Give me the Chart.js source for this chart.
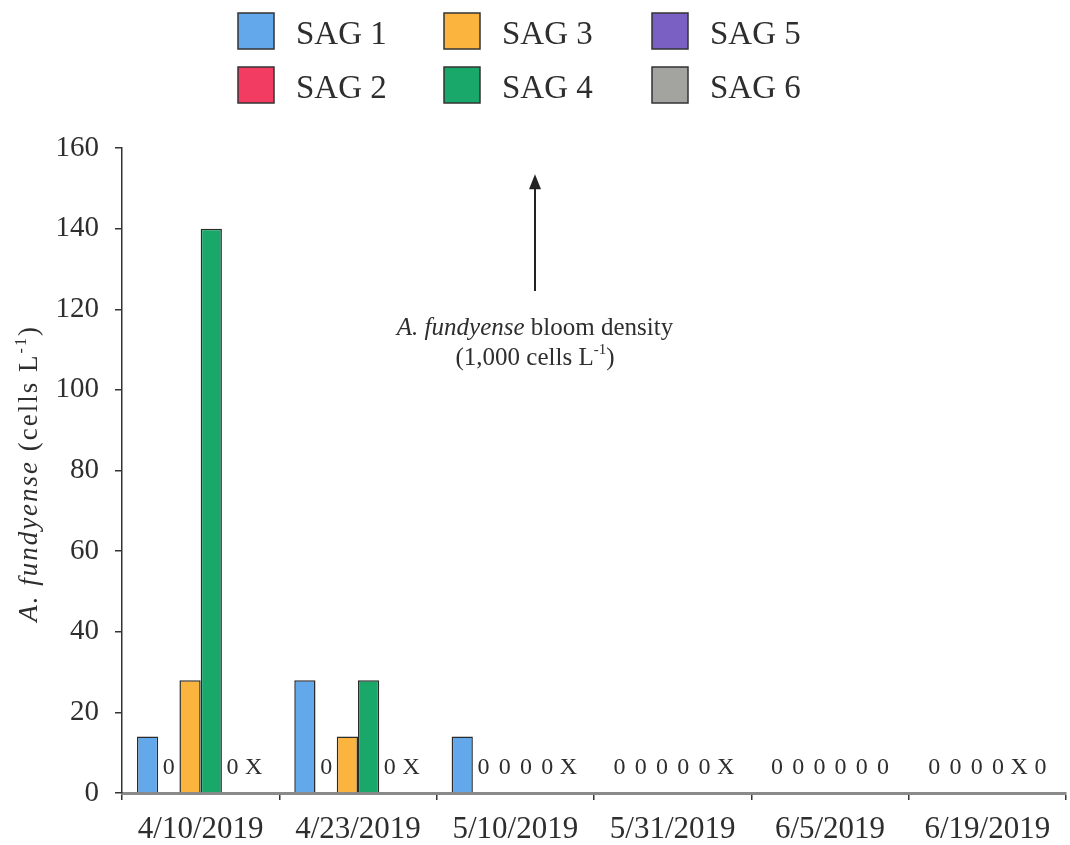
<!DOCTYPE html>
<html><head><meta charset="utf-8">
<script src="https://cdn.jsdelivr.net/npm/chart.js@4.4.1/dist/chart.umd.min.js"></script>
<style>html,body{margin:0;padding:0;background:#fff;} #wrap{width:1070px;height:845px;}</style>
</head><body><div id="wrap"><canvas id="c" width="1070" height="845"></canvas></div>
<script>
// ---- data ----
const categories = ['4/10/2019','4/23/2019','5/10/2019','5/31/2019','6/5/2019','6/19/2019'];
const seriesNames = ['SAG 1','SAG 2','SAG 3','SAG 4','SAG 5','SAG 6'];
const sag1 = [14, 28, 14, 0, 0, 0];
const sag2 = [0, 0, 0, 0, 0, 0];
const sag3 = [28, 14, 0, 0, 0, 0];
const sag4 = [140, 28, 0, 0, 0, 0];
const sag5 = [0, 0, 0, 0, 0, null];   // null = not sampled (X)
const sag6 = [null, null, null, null, 0, 0];
const yTicks = [0, 20, 40, 60, 80, 100, 120, 140, 160];
const seriesColors = ['#62a8ea','#f23c62','#fbb43e','#1aa86a','#7a60c2','#a3a3a0'];
const annotationText = ['bloom density', '(1,000 cells L', ')'];

const FONT = '"Liberation Serif", "Times New Roman", serif';
const allSeries = [sag1, sag2, sag3, sag4, sag5, sag6];
const CAT_PCT = 0.81;

const datasets = allSeries.map((vals, i) => ({
  label: seriesNames[i],
  data: vals,
  backgroundColor: seriesColors[i],
  borderColor: '#2b2b2b',
  borderWidth: (ctx) => (ctx.raw === 0 || ctx.raw === null) ? 0 : 1.5,
  borderSkipped: 'bottom',
  categoryPercentage: CAT_PCT,
  barPercentage: 1.0
}));

function drawRuns(ctx, runs, cx, cy, size, spacing) {
  const fontFor = r => (r.it ? 'italic ' : '') + (r.sup ? Math.round(size*0.6) : size) + 'px ' + FONT;
  ctx.letterSpacing = (spacing || 0) + 'px';
  let total = 0;
  runs.forEach(r => { ctx.font = fontFor(r); total += ctx.measureText(r.t).width; });
  let x = cx - total / 2;
  ctx.textBaseline = 'middle';
  ctx.textAlign = 'left';
  runs.forEach(r => {
    ctx.font = fontFor(r);
    ctx.fillText(r.t, x, r.sup ? cy - size*0.32 : cy);
    x += ctx.measureText(r.t).width;
  });
  ctx.letterSpacing = '0px';
}

const customPlugin = {
  id: 'custom',
  afterDatasetsDraw(chart) {
    const ctx = chart.ctx;
    const xs = chart.scales.x, ys = chart.scales.y;
    const n = chart.data.datasets.length;
    const catW = (xs.right - xs.left) / categories.length;
    const slot = catW * CAT_PCT / n;
    ctx.save();
    ctx.fillStyle = '#2e2e2e';
    ctx.font = '24px ' + FONT;
    ctx.textAlign = 'center';
    ctx.textBaseline = 'middle';
    const y0 = ys.getPixelForValue(0);
    categories.forEach((c, i) => {
      const cx = xs.getPixelForValue(i);
      const start = cx - catW * CAT_PCT / 2;
      chart.data.datasets.forEach((ds, d) => {
        const v = ds.data[i];
        const bx = start + (d + 0.5) * slot;
        if (v === 0) ctx.fillText('0', bx, y0 - 25);
        else if (v === null) ctx.fillText('X', bx, y0 - 25);
      });
    });
    ctx.restore();
  },
  afterDraw(chart) {
    const ctx = chart.ctx;
    const xs = chart.scales.x, ys = chart.scales.y;
    ctx.save();
    // ---- legend (3 columns x 2 rows) ----
    const colX = [238, 444, 652];
    const rowY = [31, 85];
    ctx.font = '33px ' + FONT;
    ctx.textBaseline = 'middle';
    ctx.textAlign = 'left';
    chart.data.datasets.forEach((ds, d) => {
      const col = Math.floor(d / 2), row = d % 2;
      const bx = colX[col], by = rowY[row] - 18;
      ctx.fillStyle = ds.backgroundColor;
      ctx.fillRect(bx, by, 36, 36);
      ctx.strokeStyle = '#333';
      ctx.lineWidth = 1.5;
      ctx.strokeRect(bx, by, 36, 36);
      ctx.fillStyle = '#2e2e2e';
      ctx.fillText(ds.label, bx + 58, rowY[row] + 4);
    });
    // ---- y axis title ----
    ctx.fillStyle = '#2e2e2e';
    ctx.translate(30, (ys.top + ys.bottom) / 2 + 3);
    ctx.rotate(-Math.PI / 2);
    drawRuns(ctx, [{t:'A. fundyense', it:true}, {t:' (cells L'}, {t:'-1', sup:true}, {t:')'}], 0, 0, 27, 2);
    ctx.restore();
    // ---- annotation arrow ----
    ctx.save();
    const ax = xs.getPixelForValue(2.125);
    const yTip = ys.getPixelForValue(153.5);
    const yBot = ys.getPixelForValue(124.5);
    ctx.strokeStyle = '#222';
    ctx.fillStyle = '#222';
    ctx.lineWidth = 2;
    ctx.beginPath(); ctx.moveTo(ax, yBot); ctx.lineTo(ax, yTip + 10); ctx.stroke();
    ctx.beginPath(); ctx.moveTo(ax, yTip); ctx.lineTo(ax - 6, yTip + 15); ctx.lineTo(ax + 6, yTip + 15); ctx.closePath(); ctx.fill();
    ctx.fillStyle = '#2e2e2e';
    drawRuns(ctx, [{t:'A. fundyense', it:true}, {t:' ' + annotationText[0]}], ax, ys.getPixelForValue(115.3), 25);
    drawRuns(ctx, [{t:annotationText[1]}, {t:'-1', sup:true}, {t:annotationText[2]}], ax, ys.getPixelForValue(107.8), 25);
    ctx.restore();
  }
};

new Chart(document.getElementById('c'), {
  type: 'bar',
  data: { labels: categories, datasets },
  options: {
    responsive: false,
    animation: false,
    layout: { padding: { top: 148, right: 4, left: 0, bottom: 0 } },
    plugins: { legend: { display: false }, tooltip: { enabled: false } },
    scales: {
      x: {
        grid: { display: true, drawOnChartArea: false, offset: true, tickLength: 7, color: '#333', lineWidth: 1.5 },
        border: { display: true, color: '#8a8a8a', width: 3 },
        ticks: { color: '#2e2e2e', font: { family: FONT, size: 31 }, padding: 11, maxRotation: 0, autoSkip: false },
        afterFit: (s) => { s.height = 52; }
      },
      y: {
        min: 0, max: 160,
        afterBuildTicks: (s) => { s.ticks = yTicks.map(v => ({ value: v })); },
        grid: { display: true, drawOnChartArea: false, tickLength: 7, color: '#333', lineWidth: 1.5 },
        border: { display: true, color: '#333', width: 1.5 },
        ticks: { color: '#2e2e2e', font: { family: FONT, size: 29 }, padding: 16 },
        afterFit: (s) => { s.width = 122; }
      }
    }
  },
  plugins: [customPlugin]
});
</script>
</body></html>
